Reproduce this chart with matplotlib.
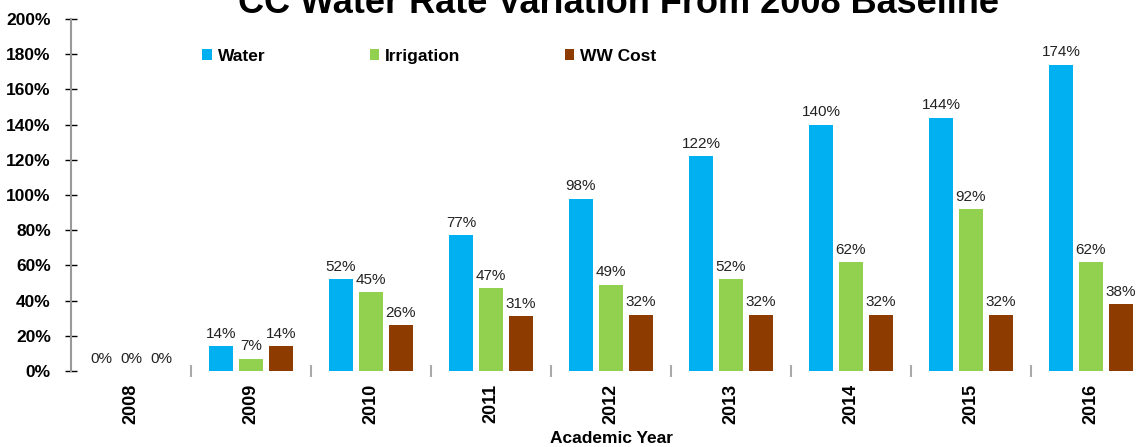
import matplotlib.pyplot as plt
import numpy as np
from matplotlib.ticker import PercentFormatter, FixedLocator

plt.rcParams['font.family'] = ['Liberation Sans', 'DejaVu Sans']

years = ['2008', '2009', '2010', '2011', '2012', '2013', '2014', '2015', '2016']
water = [0, 14, 52, 77, 98, 122, 140, 144, 174]
irrigation = [0, 7, 45, 47, 49, 52, 62, 92, 62]
ww_cost = [0, 14, 26, 31, 32, 32, 32, 32, 38]

series = [('Water', water, '#00B0F0'),
          ('Irrigation', irrigation, '#92D050'),
          ('WW Cost', ww_cost, '#8E3B00')]

W, H = 1146, 447
fig = plt.figure(figsize=(W / 100, H / 100), dpi=100)
ax = fig.add_axes([71 / W, 76 / H, 1080 / W, 352 / H])

x = np.arange(len(years))
width = 0.2
for i, (name, vals, color) in enumerate(series):
    pos = x + (i - 1) * 0.25
    ax.bar(pos, vals, width, color=color, label=name)
    for xp, v in zip(pos, vals):
        ax.text(xp, v + 3, f'{v}%', ha='center', va='bottom',
                fontsize=11, color='#222222')

ax.set_xlim(-0.5, len(years) - 0.5)
ax.set_ylim(0, 200)
ax.set_yticks(np.arange(0, 201, 20))
ax.yaxis.set_major_formatter(PercentFormatter(decimals=0))
ax.tick_params(axis='y', direction='inout', length=9, width=1,
               labelsize=12.5, pad=10)
for lab in ax.get_yticklabels():
    lab.set_fontweight('bold')

ax.set_xticks(x)
ax.set_xticklabels(years, rotation=90, fontsize=13, fontweight='bold')
ax.tick_params(axis='x', length=0, pad=9)
ax.xaxis.set_minor_locator(FixedLocator(np.arange(0.5, len(years) - 0.5, 1)))
ax.tick_params(axis='x', which='minor', direction='inout', length=9,
               width=1.5, color='#aaaaaa')

for s in ['top', 'right', 'bottom']:
    ax.spines[s].set_visible(False)
ax.spines['left'].set_color('#999999')
ax.spines['left'].set_linewidth(1.5)

ax.set_xlabel('Academic Year', fontsize=12.5, fontweight='bold', labelpad=5)
fig.text(0.54, 1.0 - 13 / H, 'CC Water Rate Variation From 2008 Baseline',
         ha='center', va='baseline', fontsize=26, fontweight='bold')

ax.legend(loc='upper left', bbox_to_anchor=(0.107, 0.96), ncol=3, frameon=False,
          prop={'size': 12.5, 'weight': 'bold'}, handlelength=0.55,
          handleheight=0.55, handletextpad=0.35, columnspacing=6.0)

fig.savefig('out.png', dpi=100)
